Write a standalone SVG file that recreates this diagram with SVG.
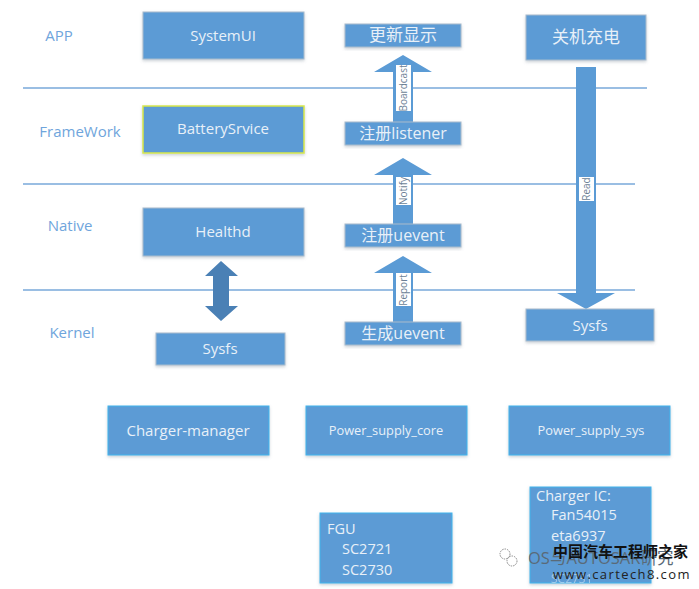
<svg xmlns="http://www.w3.org/2000/svg" width="699" height="589" viewBox="0 0 699 589">
<defs>
<filter id="sh" x="-5%" y="-10%" width="110%" height="125%"><feDropShadow dx="0" dy="1.5" stdDeviation="1.5" flood-color="#7a8a99" flood-opacity="0.4"/></filter>
</defs>
<style>
text{font-family:"Open Sans","Noto Sans CJK SC",sans-serif}
.n{fill:#5b9bd5;stroke:#a9bccd;stroke-width:1;filter:url(#sh)}
.c{stroke:#41b6ee}
.t{fill:#e8f0f8;font-size:15px;text-anchor:middle}
.cj{font-size:16px}
.l{fill:#6fa5dc;font-size:15px;text-anchor:middle}
.s{stroke:#7aa9da;stroke-width:1.6;fill:none}
.a{fill:#5b9bd5}
.lb{fill:#fff}
.v{fill:#6c7f95;font-size:10px;text-anchor:middle}
.b{fill:#e8f0f8;font-size:14.5px}
</style>
<rect width="699" height="589" fill="#fff"/>
<g id="connectors">
<path class="s" d="M23 88H647M23 184H635M23 290H635"/>
<path class="a" d="M403 55L432 72H413V122H393V72H374Z"/>
<path class="a" d="M403 158L432 175H413V224H393V175H374Z"/>
<path class="a" d="M403 256L432 273H413V322H393V273H374Z"/>
<path class="a" d="M576 67H596V293H615L586 309L557 293H576Z"/>
<path fill="#4a80b5" d="M221 261L238 276H229V306H238L221 321L205 306H213V276H205Z"/>
<rect class="lb" x="396" y="65" width="15" height="46"/>
<text class="v" transform="translate(407,88) rotate(-90)">Boardcast</text>
<rect class="lb" x="396" y="177" width="15" height="28"/>
<text class="v" transform="translate(407,191) rotate(-90)">Notify</text>
<rect class="lb" x="396" y="273" width="15" height="33"/>
<text class="v" transform="translate(407,290) rotate(-90)">Report</text>
<rect class="lb" x="579" y="177" width="15" height="24"/>
<text class="v" transform="translate(590,189) rotate(-90)">Read</text>
</g>
<g id="label-app"><text class="l" x="59" y="41">APP</text></g>
<g id="label-framework"><text class="l" x="80" y="137">FrameWork</text></g>
<g id="label-native"><text class="l" x="70" y="231">Native</text></g>
<g id="label-kernel"><text class="l" x="72" y="338">Kernel</text></g>
<g id="systemui"><rect class="n" x="143" y="12" width="161" height="47"/><text class="t" x="223" y="41">SystemUI</text></g>
<g id="batteryservice"><rect class="n" x="143" y="106" width="161" height="47" style="stroke:#d8e84a;stroke-width:1.5"/><text class="t" x="223" y="134">BatterySrvice</text></g>
<g id="healthd"><rect class="n" x="143" y="208" width="161" height="48"/><text class="t" x="223" y="237">Healthd</text></g>
<g id="sysfs-left"><rect class="n" x="156" y="333" width="129" height="32"/><text class="t" x="220" y="354">Sysfs</text></g>
<g id="charger-manager"><rect class="n c" x="108" y="406" width="161" height="49"/><text class="t" x="188" y="436">Charger-manager</text></g>
<g id="power-supply-core"><rect class="n c" x="306" y="406" width="161" height="49"/><text class="t" x="386" y="435" style="font-size:12.8px">Power_supply_core</text></g>
<g id="power-supply-sys"><rect class="n c" x="509" y="406" width="161" height="49"/><text class="t" x="591" y="435" style="font-size:12.8px">Power_supply_sys</text></g>
<g id="update-display"><rect class="n" x="345" y="24" width="116" height="23"/><text class="t" x="403" y="41" style="font-size:17px">更新显示</text></g>
<g id="shutdown-charge"><rect class="n" x="526" y="15" width="120" height="45"/><text class="t" x="586" y="43" style="font-size:17px">关机充电</text></g>
<g id="register-listener"><rect class="n" x="345" y="122" width="116" height="23"/><text class="t cj" x="403" y="139">注册listener</text></g>
<g id="register-uevent"><rect class="n" x="345" y="224" width="116" height="23"/><text class="t cj" x="403" y="241">注册uevent</text></g>
<g id="generate-uevent"><rect class="n" x="345" y="322" width="116" height="23"/><text class="t cj" x="403" y="339">生成uevent</text></g>
<g id="sysfs-right"><rect class="n" x="526" y="309" width="128" height="32"/><text class="t" x="590" y="331">Sysfs</text></g>
<g id="fgu"><rect class="n c" x="320" y="513" width="132" height="70"/>
<text class="b" x="327" y="534">FGU</text><text class="b" x="342" y="554">SC2721</text><text class="b" x="342" y="575">SC2730</text></g>
<g id="charger-ic"><rect class="n c" x="530" y="487" width="121" height="96"/>
<text class="b" x="536" y="501">Charger IC:</text><text class="b" x="551" y="520">Fan54015</text><text class="b" x="551" y="541">eta6937</text><text class="b" x="551" y="583" style="font-size:12px;opacity:.5">SC2731</text></g>
<g id="watermark">
<circle cx="505" cy="554" r="5" fill="none" stroke="#888" stroke-dasharray="1.5 1"/><circle cx="512" cy="561" r="5" fill="none" stroke="#888" stroke-dasharray="1.5 1"/>
<text x="528" y="564" font-size="16.5" fill="#5a6a78">OS与AUTOSAR研究</text>
<text x="553" y="557" font-size="15" font-weight="bold" fill="#111">中国汽车工程师之家</text>
<text x="553" y="579" font-size="13" fill="#222" letter-spacing="1.4">www.cartech8.com</text>
</g>
</svg>
